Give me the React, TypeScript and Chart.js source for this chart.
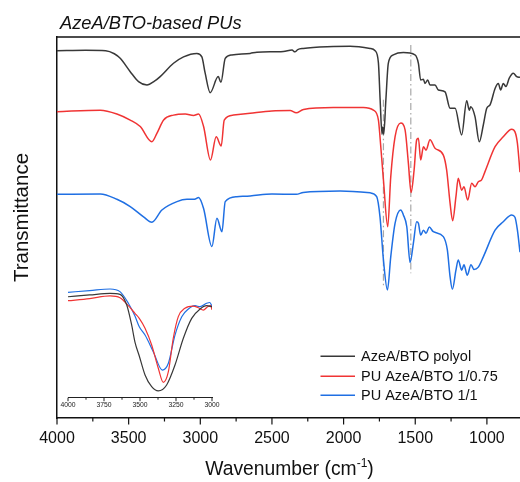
import React, { useEffect, useRef } from "react";
import { Chart, registerables } from "chart.js";

Chart.register(...registerables);

const FONT = "'Liberation Sans', Arial, Helvetica, sans-serif";

// ---------- main spectra: wavenumber (cm-1) / offset transmittance (a.u.) ----------
const polyolWn = [4000, 3800, 3660, 3600, 3559, 3489, 3431, 3372, 3320, 3280, 3187, 3117, 3024, 2989, 2966, 2931, 2875, 2856, 2826, 2780, 2652, 2605, 2420, 2360, 2340, 2320, 2282, 2073, 1955, 1815, 1780, 1757, 1745, 1732, 1726, 1720, 1705, 1688, 1653, 1583, 1502, 1478, 1462, 1443, 1432, 1413, 1397, 1362, 1339, 1292, 1257, 1222, 1176, 1141, 1123, 1113, 1083, 1053, 1025, 1001, 978, 943, 920, 904, 886, 867, 844, 816, 792, 769];
const polyolT = [96.4, 96.5, 96.4, 95.6, 94.4, 90.9, 88.3, 87.4, 88.4, 89.6, 93.1, 94.8, 95.7, 94.8, 90.5, 85.4, 89.6, 88.1, 94.4, 95.3, 95.7, 96.0, 96.2, 96.6, 96.1, 96.7, 97.0, 97.5, 97.6, 97.0, 96.4, 93.2, 83.5, 74.5, 76.4, 74.5, 83.5, 93.1, 95.3, 95.9, 95.3, 93.1, 88.7, 88.9, 87.8, 88.7, 87.4, 87.4, 86.1, 85.6, 81.3, 81.3, 74.3, 83.3, 80.8, 81.7, 79.1, 72.5, 76.9, 81.3, 82.2, 86.5, 87.8, 86.1, 87.8, 87.0, 89.2, 90.5, 89.6, 89.4];

const pu075Wn = [4000, 3698, 3582, 3489, 3419, 3338, 3303, 3256, 3187, 3105, 3047, 3012, 2977, 2929, 2889, 2854, 2833, 2768, 2652, 2500, 2373, 2331, 2280, 2071, 1862, 1792, 1757, 1746, 1722, 1692, 1671, 1641, 1601, 1571, 1548, 1529, 1508, 1490, 1478, 1462, 1443, 1425, 1397, 1362, 1304, 1281, 1257, 1239, 1216, 1200, 1176, 1160, 1134, 1106, 1083, 1060, 1037, 1014, 943, 886, 827, 804, 787, 769];
const pu075T = [80.4, 80.8, 79.8, 78.2, 76.5, 72.5, 74.7, 78.2, 79.5, 79.8, 79.4, 79.8, 76.5, 67.7, 73.8, 71.4, 78.2, 79.5, 80.0, 80.6, 80.7, 80.1, 81.0, 81.5, 81.5, 80.8, 78.2, 73.8, 62.5, 50.2, 63.3, 73.8, 77.4, 75.6, 66.9, 59.2, 65.1, 73.0, 73.4, 67.7, 71.2, 70.3, 73.0, 70.8, 69.0, 65.1, 56.4, 51.8, 58.1, 62.9, 59.8, 60.7, 57.2, 61.6, 60.7, 62.0, 62.5, 64.6, 71.2, 73.8, 75.8, 75.1, 72.1, 64.5];

const pu11Wn = [4000, 3698, 3582, 3489, 3396, 3338, 3268, 3163, 3093, 3040, 3012, 2977, 2919, 2884, 2849, 2826, 2745, 2652, 2500, 2330, 2282, 2024, 1815, 1769, 1746, 1722, 1694, 1671, 1641, 1601, 1583, 1559, 1536, 1513, 1490, 1478, 1462, 1443, 1425, 1402, 1374, 1304, 1276, 1257, 1241, 1216, 1200, 1176, 1160, 1137, 1111, 1090, 1060, 1025, 943, 886, 827, 804, 787, 769];
const pu11T = [58.7, 58.8, 57.4, 55.5, 52.8, 51.4, 54.6, 56.8, 57.4, 57.4, 57.9, 55.0, 45.0, 52.4, 48.9, 56.8, 58.1, 58.3, 58.8, 58.7, 59.2, 59.6, 59.1, 58.1, 52.8, 41.5, 33.6, 42.3, 51.1, 54.6, 53.3, 50.2, 40.8, 45.9, 51.5, 51.1, 48.0, 49.3, 48.5, 50.1, 48.9, 47.6, 44.1, 37.1, 33.8, 38.8, 41.5, 38.8, 40.2, 37.5, 40.2, 39.0, 39.6, 42.3, 49.3, 51.5, 53.3, 52.7, 49.3, 43.5];

// x-axis tick positions (labels on multiples of 500)
const xTickValues = [1000, 1250, 1500, 1750, 2000, 2250, 2500, 2750, 3000, 3250, 3500, 3750, 4000];

// dash-dot guide lines
const markerWn = [1722, 1531];
const markerFrom = [83.5, 97.9];
const markerTo = [34.4, 38.0];

// ---------- inset (O-H / N-H region) ----------
const insetTickValues = [3000, 3125, 3250, 3375, 3500, 3625, 3750, 3875, 4000];
const insetPolyolWn = [4000, 3850, 3708, 3639, 3592, 3558, 3535, 3505, 3465, 3419, 3373, 3315, 3257, 3199, 3141, 3083, 3037, 3000];
const insetPolyolV = [91.2, 92.8, 94.3, 93.4, 83.7, 65.7, 50.3, 37.7, 20.5, 9.9, 6.1, 11.5, 29.5, 53.7, 71.7, 80.1, 83.1, 82.2];
const insetPu075Wn = [4000, 3850, 3708, 3639, 3581, 3535, 3505, 3465, 3419, 3373, 3338, 3303, 3269, 3234, 3188, 3130, 3095, 3060, 3030, 3009, 3000];
const insetPu075V = [87.6, 89.5, 91.9, 90.3, 83.1, 76.2, 71.7, 62.7, 47.6, 26.6, 13.9, 23.5, 53.7, 73.2, 80.8, 82.8, 81.3, 79.2, 82.2, 83.1, 79.5];
const insetPu11Wn = [4000, 3850, 3708, 3639, 3581, 3535, 3505, 3465, 3408, 3345, 3303, 3257, 3210, 3164, 3118, 3083, 3037, 3015, 3000];
const insetPu11V = [95.2, 96.7, 98.2, 95.8, 85.3, 73.8, 64.1, 56.6, 41.6, 25.0, 31.1, 56.6, 73.2, 80.1, 83.1, 82.2, 85.3, 86.0, 82.5];

const seriesNames = ["AzeA/BTO polyol", "PU AzeA/BTO 1/0.75", "PU AzeA/BTO 1/1"];
const seriesColors = ["#383838", "#f03434", "#1f6fe3"];

const chartTitle = "AzeA/BTO-based PUs";
const yTitle = "Transmittance";
const xTitleMain = "Wavenumber (cm";
const xTitleSup = "-1";
const xTitleEnd = ")";

const zip = (xs: number[], ys: number[]) => xs.map((x, i) => ({ x, y: ys[i] }));

const lineDs = (label: string, data: any[], color: string, width = 1.5) => ({
  label,
  data,
  borderColor: color,
  backgroundColor: color,
  borderWidth: width,
  pointRadius: 0,
  fill: false,
  cubicInterpolationMode: "monotone" as const,
  order: 1,
});

const mainDecor = {
  id: "mainDecor",
  afterDraw(chart: any) {
    const { ctx, chartArea: a } = chart;
    const xs = chart.scales.x;
    ctx.save();
    // top frame line
    ctx.strokeStyle = "#111";
    ctx.lineWidth = 1.5;
    ctx.beginPath();
    ctx.moveTo(a.left - 0.75, a.top);
    ctx.lineTo(a.right, a.top);
    ctx.stroke();
    // tick marks
    ctx.lineWidth = 1.2;
    xs.ticks.forEach((t: any) => {
      const px = xs.getPixelForValue(t.value);
      const len = t.value % 500 === 0 ? 6.5 : 3.5;
      ctx.beginPath();
      ctx.moveTo(px, a.bottom);
      ctx.lineTo(px, a.bottom + len);
      ctx.stroke();
    });
    // chart title
    ctx.fillStyle = "#111";
    ctx.textAlign = "left";
    ctx.textBaseline = "alphabetic";
    ctx.font = `italic 18.3px ${FONT}`;
    ctx.fillText(chartTitle, 60, 29);
    // y title
    ctx.save();
    ctx.translate(28, 217.5);
    ctx.rotate(-Math.PI / 2);
    ctx.textAlign = "center";
    ctx.font = `20.5px ${FONT}`;
    ctx.fillText(yTitle, 0, 0);
    ctx.restore();
    // x title with superscript
    const big = `19.3px ${FONT}`;
    const small = `12px ${FONT}`;
    ctx.font = big;
    const w1 = ctx.measureText(xTitleMain).width;
    const w3 = ctx.measureText(xTitleEnd).width;
    ctx.font = small;
    const w2 = ctx.measureText(xTitleSup).width;
    let sx = 289.5 - (w1 + w2 + w3) / 2;
    const by = 474.5;
    ctx.textAlign = "left";
    ctx.font = big;
    ctx.fillText(xTitleMain, sx, by);
    sx += w1;
    ctx.font = small;
    ctx.fillText(xTitleSup, sx, by - 7.5);
    sx += w2;
    ctx.font = big;
    ctx.fillText(xTitleEnd, sx, by);
    // legend
    const rows = [356.2, 376.2, 395.2];
    ctx.font = `14.5px ${FONT}`;
    ctx.textBaseline = "middle";
    seriesNames.forEach((n, i) => {
      ctx.strokeStyle = seriesColors[i];
      ctx.lineWidth = 1.5;
      ctx.beginPath();
      ctx.moveTo(320.5, rows[i]);
      ctx.lineTo(355, rows[i]);
      ctx.stroke();
      ctx.fillStyle = "#111";
      ctx.fillText(n, 361, rows[i] + 0.5);
    });
    ctx.restore();
  },
};

const insetDecor = {
  id: "insetDecor",
  afterDraw(chart: any) {
    const { ctx, chartArea: a } = chart;
    const xs = chart.scales.x;
    ctx.save();
    ctx.strokeStyle = "#222";
    ctx.lineWidth = 1;
    xs.ticks.forEach((t: any) => {
      const px = xs.getPixelForValue(t.value);
      const len = t.value % 250 === 0 ? 3.5 : 2;
      ctx.beginPath();
      ctx.moveTo(px, a.bottom);
      ctx.lineTo(px, a.bottom + len);
      ctx.stroke();
    });
    ctx.restore();
  },
};

export default function App() {
  const mainRef = useRef<HTMLCanvasElement | null>(null);
  const insetRef = useRef<HTMLCanvasElement | null>(null);

  useEffect(() => {
    if (!mainRef.current || !insetRef.current) return;

    const markers = markerWn.map((w, i) => ({
      label: "marker" + i,
      data: [
        { x: w, y: markerFrom[i] },
        { x: w, y: markerTo[i] },
      ],
      borderColor: "#a8a8a8",
      borderWidth: 1.2,
      borderDash: [7, 3, 1.5, 3],
      pointRadius: 0,
      fill: false,
      order: 5,
    }));

    const main = new Chart(mainRef.current, {
      type: "line",
      data: {
        datasets: [
          ...markers,
          lineDs(seriesNames[0], zip(polyolWn, polyolT), seriesColors[0]),
          lineDs(seriesNames[1], zip(pu075Wn, pu075T), seriesColors[1]),
          lineDs(seriesNames[2], zip(pu11Wn, pu11T), seriesColors[2]),
        ] as any,
      },
      options: {
        responsive: false,
        animation: false,
        devicePixelRatio: 1,
        layout: { padding: { top: 37, left: 0, right: 0, bottom: 0 } },
        plugins: { legend: { display: false }, tooltip: { enabled: false }, title: { display: false } },
        scales: {
          x: {
            type: "linear",
            min: 769,
            max: 4000,
            bounds: "data",
            reverse: true,
            grid: { display: false, drawTicks: false },
            border: { display: true, color: "#111", width: 1.5 },
            afterBuildTicks: (s: any) => {
              s.ticks = xTickValues.map((v) => ({ value: v }));
            },
            ticks: {
              autoSkip: false,
              maxRotation: 0,
              padding: 11,
              color: "#111",
              font: { family: FONT, size: 16 },
              callback: (v: any) => (Number(v) % 500 === 0 ? String(v) : ""),
            },
            afterFit: (s: any) => {
              s.height = 64;
              s.paddingLeft = 0;
              s.paddingRight = 0;
            },
          },
          y: {
            type: "linear",
            min: 0,
            max: 100,
            grid: { display: false, drawTicks: false },
            border: { display: true, color: "#111", width: 1.5 },
            ticks: { display: false },
            afterFit: (s: any) => {
              s.width = 57;
            },
          },
        },
      } as any,
      plugins: [mainDecor],
    });

    const inset = new Chart(insetRef.current, {
      type: "line",
      data: {
        datasets: [
          lineDs(seriesNames[0], zip(insetPolyolWn, insetPolyolV), seriesColors[0], 1.2),
          lineDs(seriesNames[1], zip(insetPu075Wn, insetPu075V), seriesColors[1], 1.2),
          lineDs(seriesNames[2], zip(insetPu11Wn, insetPu11V), seriesColors[2], 1.2),
        ] as any,
      },
      options: {
        responsive: false,
        animation: false,
        devicePixelRatio: 1,
        layout: { padding: { top: 7, left: 13, right: 13, bottom: 0 } },
        plugins: { legend: { display: false }, tooltip: { enabled: false } },
        scales: {
          x: {
            type: "linear",
            min: 3000,
            max: 4000,
            bounds: "data",
            reverse: true,
            grid: { display: false, drawTicks: false },
            border: { display: true, color: "#222", width: 1 },
            afterBuildTicks: (s: any) => {
              s.ticks = insetTickValues.map((v) => ({ value: v }));
            },
            ticks: {
              autoSkip: false,
              maxRotation: 0,
              padding: 3,
              color: "#222",
              font: { family: FONT, size: 6.8 },
              callback: (v: any) => (Number(v) % 250 === 0 ? String(v) : ""),
            },
            afterFit: (s: any) => {
              s.height = 22.3;
              s.paddingLeft = 0;
              s.paddingRight = 0;
            },
          },
          y: { type: "linear", min: 0, max: 100, display: false },
        },
      } as any,
      plugins: [insetDecor],
    });

    return () => {
      main.destroy();
      inset.destroy();
    };
  }, []);

  return (
    <div style={{ position: "absolute", left: 0, top: 0, width: 520, height: 482, background: "#fff" }}>
      <canvas ref={mainRef} width={520} height={482} style={{ position: "absolute", left: 0, top: 0, width: 520, height: 482 }} />
      <canvas ref={insetRef} width={170} height={140} style={{ position: "absolute", left: 55, top: 280, width: 170, height: 140 }} />
    </div>
  );
}
